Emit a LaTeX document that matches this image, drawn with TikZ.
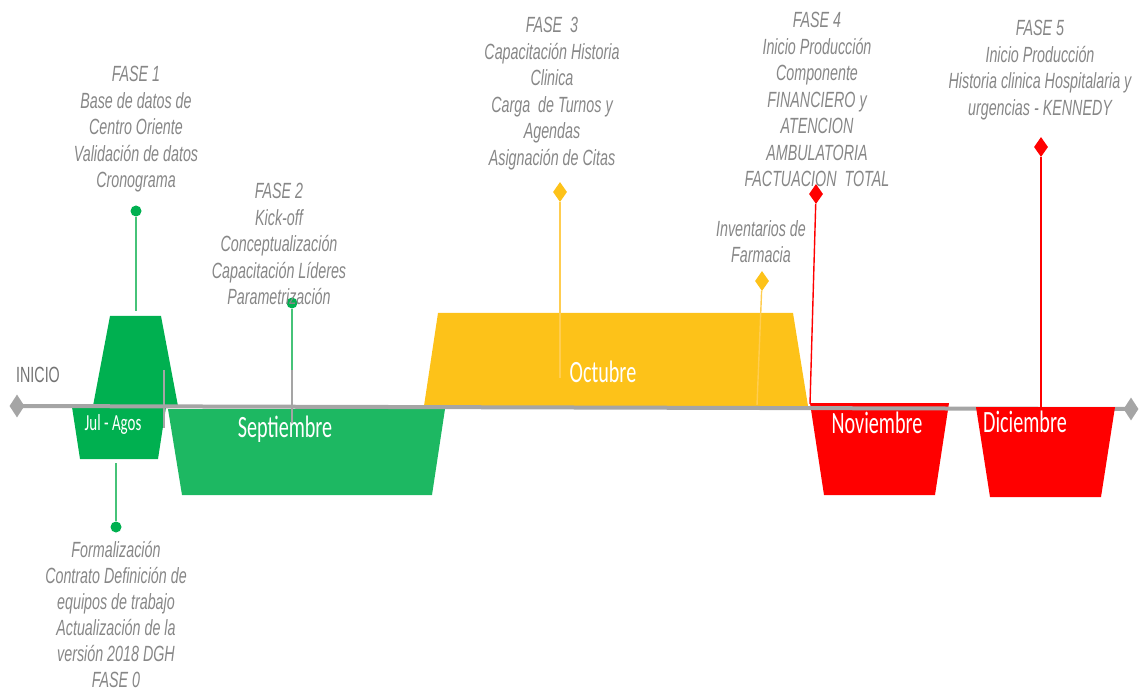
\documentclass[tikz,border=0pt]{standalone}
\usepackage{fontspec}
\usetikzlibrary{shapes.geometric}
\newfontfamily\gfont[FakeStretch=0.65]{Liberation Sans}
\newfontfamily\mfont[FakeStretch=0.65]{Carlito}
\definecolor{tgray}{RGB}{135,135,135}
\definecolor{igray}{RGB}{115,115,115}
\definecolor{lgray}{RGB}{165,165,165}
\definecolor{gA}{RGB}{0,176,80}
\definecolor{gB}{RGB}{29,184,98}
\definecolor{gL}{RGB}{70,195,120}
\definecolor{yA}{RGB}{253,194,25}
\definecolor{yL}{RGB}{255,205,80}
\definecolor{rA}{RGB}{255,0,0}
\tikzset{
  phase/.style={font=\gfont\itshape\fontsize{22}{26.5}\selectfont, text=tgray, align=center, inner sep=0pt, anchor=north},
  month/.style={font=\mfont\fontsize{31}{36}\selectfont, text=white, inner sep=0pt, anchor=base},
  dotg/.style={circle, fill=gA, minimum size=11pt, inner sep=0pt},
  mile/.style={diamond, minimum width=14pt, minimum height=20pt, inner sep=0pt},
  stem/.style={line width=1.4pt}
}
\begin{document}
\begin{tikzpicture}[x=1pt,y=-1pt]
\useasboundingbox (0,0) rectangle (1143,692);
% month shapes
\fill[gA] (110,316) -- (161,316) -- (178,406) -- (93,406) -- cycle;
\fill[gA] (72,407) -- (166,407) -- (158,459) -- (80,459) -- cycle;
\fill[gB] (168,409) -- (445,409) -- (432,495) -- (182,495) -- cycle;
\fill[yA] (438,313) -- (793,313) -- (808,406) -- (424,406) -- cycle;
\fill[rA] (810,403) -- (949,403) -- (935,495) -- (824,495) -- cycle;
% timeline
\node[mile, fill=lgray, minimum width=15pt, minimum height=23pt] (start) at (17,406) {};
\node[mile, fill=lgray, minimum width=15pt, minimum height=23pt] (end) at (1131,409) {};
\draw[lgray, line width=4pt] (start.center) -- (end.center);
\fill[rA] (976,407) -- (1115,407) -- (1101,497) -- (990,497) -- cycle;
\draw[lgray, line width=1.5pt] (164,370) -- (164,428);
% month labels
\node[month, font=\gfont\fontsize{22}{26}\selectfont, text=igray] (inicio) at (38,383) {INICIO};
\node[month] (julago) at (113,430) {\fontsize{23}{26}\selectfont Jul - Agos};
\node[month] (sep) at (285,437) {Septiembre};
\node[month] (oct) at (603,382) {Octubre};
\node[month] (nov) at (877,433) {Noviembre};
\node[month] (dic) at (1025,432) {Diciembre};
% milestones
\node[dotg] (p1) at (136,211) {};
\coordinate (p1e) at (136,311);
\draw[gL, stem] (p1) -- (p1e);
\node[dotg] (p2) at (292,303) {};
\coordinate (p2m) at (292,370);
\coordinate (p2e) at (292,423);
\draw[gL, stem] (p2) -- (p2m);
\draw[lgray, stem] (p2m) -- (p2e);
\node[dotg] (p0) at (116,527) {};
\coordinate (p0s) at (116,463);
\draw[gL, stem] (p0s) -- (p0);
\node[mile, fill=yA] (p3) at (560,192) {};
\coordinate (p3e) at (560,378);
\draw[yL, stem] (p3) -- (p3e);
\node[mile, fill=yA] (pinv) at (762,281) {};
\coordinate (pinve) at (757,405);
\draw[yL, stem] (pinv) -- (pinve);
\node[mile, fill=rA] (p4) at (816,194) {};
\coordinate (p4e) at (810,404);
\draw[rA, stem] (p4) -- (p4e);
\node[mile, fill=rA] (p5) at (1041,147) {};
\coordinate (p5e) at (1041,407);
\draw[rA, stem] (p5) -- (p5e);
% phase texts
\node[phase] (t1) at (136,66) {FASE 1\\Base de datos de\\Centro Oriente\\Validación de datos\\Cronograma};
\node[phase] (t2) at (279,183) {FASE 2\\Kick-off\\Conceptualización\\Capacitación Líderes\\Parametrización};
\node[phase, font=\gfont\itshape\fontsize{22}{26}\selectfont] (t0) at (116,541) {Formalización\\Contrato Definición de\\equipos de trabajo\\Actualización de la\\versión 2018 DGH\\FASE 0};
\node[phase] (t3) at (552,17) {FASE~~3\\Capacitación Historia\\Clinica\\Carga~ de Turnos y\\Agendas\\Asignación de Citas};
\node[phase] (tinv) at (761,220) {Inventarios de\\Farmacia};
\node[phase] (t4) at (817,12) {FASE 4\\Inicio Producción\\Componente\\FINANCIERO y\\ATENCION\\AMBULATORIA\\FACTUACION~ TOTAL};
\node[phase] (t5) at (1040,20) {FASE 5\\Inicio Producción\\Historia clinica Hospitalaria y\\urgencias - KENNEDY};
\end{tikzpicture}
\end{document}
